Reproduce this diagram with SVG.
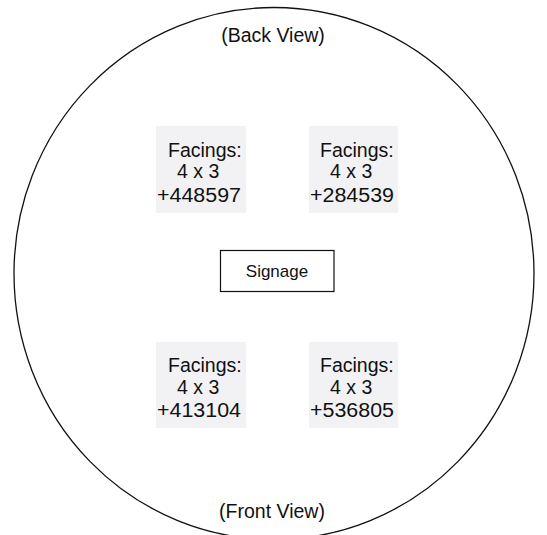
<svg xmlns="http://www.w3.org/2000/svg" width="547" height="535" viewBox="0 0 547 535">
<style>
.bg{fill:#ffffff}
.outline{fill:none;stroke:#111111;stroke-width:1.3}
.facing{fill:#f2f2f4;stroke:none}
.sign{fill:#ffffff;stroke:#111111;stroke-width:1.2}
text{font-family:"Liberation Sans",Arial,sans-serif;fill:#111111}
.t{font-size:19.5px}
.s{font-size:17px;text-anchor:middle}
.v{font-size:19.5px;text-anchor:middle}
</style>
<rect class="bg" x="0" y="0" width="547" height="535"/>
<g id="store">
<ellipse class="outline" cx="274" cy="273.5" rx="260" ry="266"/>
<text class="v" x="273" y="42">(Back View)</text>
<text class="v" x="272" y="518">(Front View)</text>
</g>
<g id="connectors"></g>
<g id="facing-1">
<rect class="facing" x="156" y="126" width="90" height="87"/>
<text class="t" x="168" y="157">Facings:</text>
<text class="t" x="177" y="178">4 x 3</text>
<text class="t" x="157" y="202" textLength="84" lengthAdjust="spacingAndGlyphs">+448597</text>
</g>
<g id="facing-2">
<rect class="facing" x="309" y="126" width="89" height="87"/>
<text class="t" x="320" y="157">Facings:</text>
<text class="t" x="330" y="178">4 x 3</text>
<text class="t" x="310" y="202" textLength="84" lengthAdjust="spacingAndGlyphs">+284539</text>
</g>
<g id="signage">
<rect class="sign" x="220.5" y="250.5" width="113.5" height="41"/>
<text class="s" x="277" y="277">Signage</text>
</g>
<g id="facing-3">
<rect class="facing" x="156" y="342" width="90" height="86"/>
<text class="t" x="168" y="372">Facings:</text>
<text class="t" x="177" y="394">4 x 3</text>
<text class="t" x="157" y="417" textLength="84" lengthAdjust="spacingAndGlyphs">+413104</text>
</g>
<g id="facing-4">
<rect class="facing" x="309" y="342" width="89" height="86"/>
<text class="t" x="320" y="372">Facings:</text>
<text class="t" x="330" y="394">4 x 3</text>
<text class="t" x="310" y="417" textLength="84" lengthAdjust="spacingAndGlyphs">+536805</text>
</g>
</svg>
